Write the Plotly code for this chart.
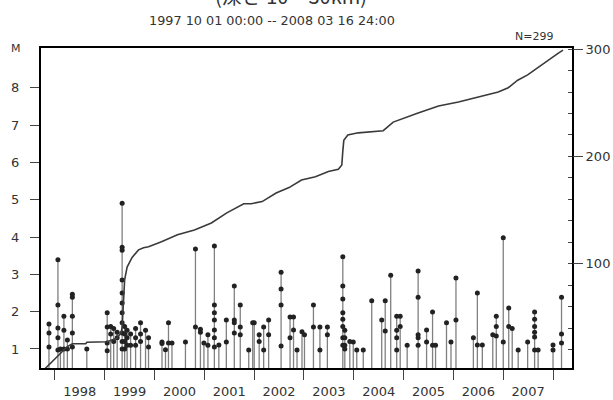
import plotly.graph_objects as go
from datetime import datetime, timedelta

# ---------------- data ----------------
# events: decimal year and magnitudes of the dots stacked on that stem
event_years = [1997.88, 1998.06, 1998.11, 1998.18, 1998.25, 1998.35, 1998.64,
               1999.05, 1999.12, 1999.18, 1999.25, 1999.35, 1999.40, 1999.45,
               1999.52, 1999.62, 1999.72, 1999.82, 1999.88, 2000.15, 2000.22,
               2000.28, 2000.35, 2000.62, 2000.82, 2000.92, 2000.99, 2001.07,
               2001.20, 2001.29, 2001.44, 2001.60, 2001.72, 2001.89, 2001.97,
               2002.00, 2002.10, 2002.19, 2002.29, 2002.54, 2002.72, 2002.79,
               2002.86, 2002.96, 2003.01, 2003.19, 2003.32, 2003.47, 2003.78,
               2003.82, 2003.92, 2003.99, 2004.06, 2004.19, 2004.36, 2004.56,
               2004.63, 2004.74, 2004.86, 2004.93, 2005.07, 2005.29, 2005.46,
               2005.58, 2005.64, 2005.86, 2005.95, 2006.05, 2006.40, 2006.48,
               2006.58, 2006.79, 2006.86, 2007.00, 2007.11, 2007.18, 2007.30,
               2007.49, 2007.63, 2007.70, 2008.00, 2008.17]
event_mags = [
    [1.67, 1.43, 1.05], [3.39, 2.18, 1.56, 1.3, 0.97], [1.0], [1.88, 1.5, 1.0],
    [1.24, 1.0], [2.47, 2.39, 1.88, 1.43, 1.05], [1.0],
    [1.97, 1.59, 1.16, 0.95], [1.6, 1.4], [1.55, 1.2], [1.45, 1.3],
    [4.91, 3.73, 3.65, 2.85, 2.5, 2.23, 1.97, 1.7, 1.43, 1.2, 1.0],
    [1.6, 1.4, 1.2, 1.0], [1.5, 1.3, 1.1],
    [1.4, 1.1], [1.55, 1.3, 1.1], [1.7, 1.4, 1.2], [1.5], [1.3, 1.05], [1.19, 1.15], [0.98],
    [1.7, 1.16], [1.16], [1.19], [3.68, 1.59], [1.53, 1.45], [1.16], [1.38, 1.1],
    [3.76, 2.18, 1.97, 1.78, 1.51, 1.3, 1.05], [1.11], [1.78, 1.19], [2.69, 1.78, 1.7, 1.43],
    [2.18, 1.59, 1.38], [0.97], [1.7],
    [1.7], [1.38, 1.2], [1.59, 0.97], [1.78, 1.38], [3.06, 2.61, 2.18, 1.08], [1.86, 1.3],
    [1.86, 1.51], [0.97], [1.46], [1.38], [2.18, 1.59], [1.59, 0.97], [1.59, 1.38],
    [3.47, 2.69, 2.34, 1.97, 1.8, 1.6, 1.3, 1.1],
    [1.5, 1.3, 1.1, 1.0], [1.2], [1.19], [0.97], [0.97], [2.29], [1.78],
    [2.29, 1.48], [2.98], [1.88, 1.5, 1.3, 0.97], [1.88, 1.6], [1.1], [3.09, 2.39, 1.38, 1.3, 1.1],
    [1.51, 1.19], [1.99, 1.1], [1.1], [1.7], [1.19], [2.9, 1.78], [1.3], [2.5, 1.11],
    [1.11], [1.38], [1.88, 1.6, 1.35], [3.98, 1.19], [2.1, 1.6], [1.55], [0.97],
    [1.19], [1.99, 1.8, 1.6, 1.45, 1.32, 0.97], [0.97], [1.11, 0.97], [2.39, 1.4, 1.16]]

# cumulative number of events (right axis)
cum_years = [1997.75, 1997.88, 1998.06, 1998.18, 1998.25, 1998.35, 1998.62, 1998.64,
             1999.05, 1999.25, 1999.33, 1999.35, 1999.37, 1999.40, 1999.45, 1999.55,
             1999.68, 1999.78, 1999.88, 2000.14, 2000.46, 2000.80, 2001.14, 2001.45,
             2001.79, 2001.94, 2002.16, 2002.44, 2002.70, 2002.95, 2003.23, 2003.49,
             2003.69, 2003.76, 2003.78, 2003.80, 2003.88, 2003.99, 2004.09, 2004.59,
             2004.79, 2005.29, 2005.70, 2006.10, 2006.50, 2006.90, 2007.10, 2007.29,
             2007.49, 2007.70, 2007.90, 2008.10, 2008.20]
cum_counts = [0, 6, 14, 20, 23, 25.6, 25.6, 27, 27.5, 31, 36, 41, 64, 85, 97, 106,
              113, 115, 116, 120.5, 127, 131.6, 138, 147.5, 156, 156, 158, 166, 171,
              178, 181, 186, 188, 192, 205, 215, 220, 221, 222, 224, 232, 240.5, 247,
              250.7, 255.3, 260, 264, 271, 276, 283, 290, 296, 299]

year_ticks = list(range(1998, 2009))
year_labels = [str(y) for y in range(1998, 2008)]
m_ticks = [1, 2, 3, 4, 5, 6, 7, 8]
n_ticks = [100, 200, 300]
title_top = "(深さ 10 ~ 30km)"
title_period = "1997 10 01 00:00 -- 2008 03 16 24:00"
n_label = "N=299"


def to_date(y):
    yi = int(y)
    start = datetime(yi, 1, 1)
    length = (datetime(yi + 1, 1, 1) - start).days
    return start + timedelta(days=(y - yi) * length)


M_MIN, M_MAX = 0.49, 9.07
x_start, x_end = to_date(1997.72), to_date(2008.38)

stem_x, stem_y, dot_x, dot_y = [], [], [], []
for yr, mags in zip(event_years, event_mags):
    d = to_date(yr)
    stem_x += [d, d, None]
    stem_y += [M_MIN, max(mags), None]
    for m in mags:
        dot_x.append(d)
        dot_y.append(m)

fig = go.Figure()
fig.add_trace(go.Scatter(x=stem_x, y=stem_y, mode="lines",
                         line=dict(color="#808080", width=1.3), hoverinfo="skip",
                         showlegend=False))
fig.add_trace(go.Scatter(x=dot_x, y=dot_y, mode="markers",
                         marker=dict(color="#222", size=5), showlegend=False))
fig.add_trace(go.Scatter(x=[to_date(y) for y in cum_years], y=cum_counts,
                         mode="lines", line=dict(color="#3a3a3a", width=1.6),
                         yaxis="y2", showlegend=False))
# invisible trace to activate label axis
fig.add_trace(go.Scatter(x=[x_start], y=[M_MIN], xaxis="x2", mode="markers",
                         marker=dict(opacity=0), showlegend=False, hoverinfo="skip"))

font = dict(family="DejaVu Sans", size=12, color="#333")

fig.update_layout(
    width=613, height=400, margin=dict(l=41, r=41, t=48, b=32, autoexpand=False),
    paper_bgcolor="white", plot_bgcolor="white", font=font,
    xaxis=dict(range=[x_start, x_end], type="date", showgrid=False, zeroline=False,
               automargin=False,
               showline=True, linecolor="black", linewidth=2, mirror=True,
               tickmode="array", tickvals=[to_date(y) for y in year_ticks],
               showticklabels=False, ticks="outside", ticklen=10, tickwidth=1.2,
               tickcolor="#444"),
    xaxis2=dict(range=[x_start, x_end], type="date", overlaying="x", anchor="y",
                side="bottom", showgrid=False, zeroline=False, showline=False,
                automargin=False,
                tickmode="array", tickvals=[to_date(int(s) + 0.5) for s in year_labels],
                ticktext=year_labels, ticks="outside", ticklen=11,
                tickcolor="rgba(0,0,0,0)", tickfont=dict(size=13, color="#333")),
    yaxis=dict(range=[M_MIN, M_MAX], showgrid=False, zeroline=False, showline=True,
               automargin=False,
               linecolor="black", linewidth=2, mirror=True, tickmode="array",
               tickvals=m_ticks, ticks="outside", ticklen=9, tickwidth=1.2,
               tickcolor="#444", ticklabelstandoff=8, tickfont=dict(size=13)),
    yaxis2=dict(range=[3, 301], overlaying="y", side="right", showgrid=False,
                automargin=False,
                zeroline=False, showline=False, tickmode="array", tickvals=n_ticks,
                ticks="outside", ticklen=10, tickwidth=1.2, tickcolor="#444",
                tickfont=dict(size=13),
                minor=dict(ticks="inside", tickmode="linear", tick0=0, dtick=20,
                           ticklen=4, tickcolor="#444", tickwidth=1)),
    annotations=[
        dict(text="M", xref="paper", yref="paper", x=-0.033, y=1.0, xanchor="right",
             yanchor="middle", showarrow=False, font=dict(size=11, color="#333")),
        dict(text=n_label, xref="paper", yref="paper", x=0.928, y=1.035,
             xanchor="center", yanchor="middle", showarrow=False,
             font=dict(size=11, color="#333")),
        dict(text=title_period, xref="paper", yref="paper", x=0.435, y=1.087,
             xanchor="center", yanchor="middle", showarrow=False,
             font=dict(size=12.8, color="#333")),
        dict(text=title_top, xref="paper", yref="paper", x=0.47, y=1.112,
             xanchor="center", yanchor="bottom", showarrow=False,
             font=dict(family="Noto Sans CJK JP", size=20, color="#333")),
    ],
)

fig.write_html("out.html")
